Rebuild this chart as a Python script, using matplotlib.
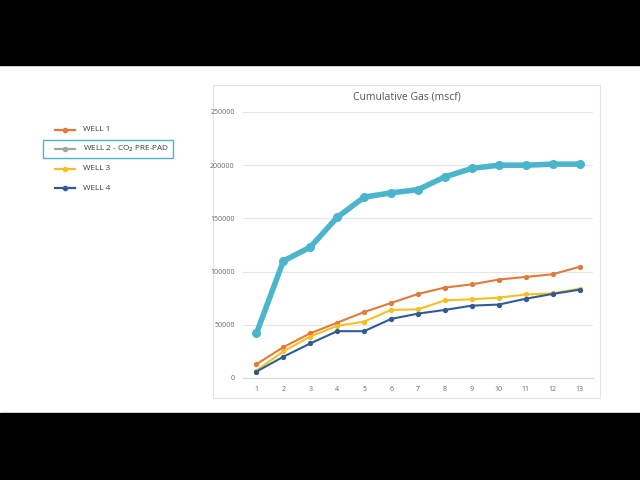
import matplotlib
matplotlib.use("Agg")
import matplotlib.pyplot as plt
from matplotlib.patches import Rectangle
from matplotlib.lines import Line2D

plt.rcParams['font.family'] = ['Open Sans', 'DejaVu Sans']

months = list(range(1, 14))
well1 = [13000, 29000, 42000, 52000, 62000, 70500, 79000, 85000, 88000, 92500, 95000, 97500, 104500]
well2 = [42000, 110000, 123000, 151000, 170000, 174000, 177000, 189000, 197000, 200000, 200000, 201000, 201000]
well3 = [7000, 25000, 39000, 49000, 53000, 64000, 64500, 73000, 74000, 75500, 78500, 79500, 84000]
well4 = [6000, 20000, 32500, 44000, 44000, 55500, 60500, 64000, 68000, 69000, 74500, 79000, 83000]
labels = ['WELL 1', 'WELL 2 - CO$_2$ PRE-PAD', 'WELL 3', 'WELL 4']
yticks = [0, 50000, 100000, 150000, 200000, 250000]

c1 = '#E07B39'
c2 = '#4BB5CE'
c3 = '#F5C021'
c4 = '#2F5C99'
grey = '#A5A5A5'

fig = plt.figure(figsize=(6.4, 4.8), dpi=100)
fig.patch.set_facecolor('white')

# black letterbox bands
fig.patches.append(Rectangle((0, 0), 1, 67/480, transform=fig.transFigure, color='black', zorder=-2))
fig.patches.append(Rectangle((0, 1 - 65/480), 1, 65/480, transform=fig.transFigure, color='black', zorder=-2))

# chart panel border
fig.patches.append(Rectangle((213/640, (480-398)/480), 387/640, 313/480, transform=fig.transFigure,
                             facecolor='white', edgecolor='#E4E4E4', lw=0.8, zorder=-1))

ax = fig.add_axes([243/640, (480-378)/480, 350/640, 266/480], zorder=1)
ax.plot(months, well1, color=c1, lw=1.5, marker='o', ms=2.8, zorder=3)
ax.plot(months, well3, color=c3, lw=1.5, marker='o', ms=2.8, zorder=3)
ax.plot(months, well4, color=c4, lw=1.5, marker='o', ms=2.8, zorder=4)
ax.plot(months, well2, color=c2, lw=4, marker='o', ms=5.5, zorder=5)

ax.set_xlim(0.5, 13.5)
ax.set_ylim(0, 250000)
ax.set_xticks(months)
ax.set_yticks(yticks)
ax.set_yticklabels([str(v) for v in yticks])
ax.tick_params(length=0, labelsize=5, colors='#666666', pad=6)
ax.grid(axis='y', color='#E6E6E6', lw=0.8)
ax.set_axisbelow(True)
for s in ['top', 'right', 'left']:
    ax.spines[s].set_visible(False)
ax.spines['bottom'].set_color('#D9D9D9')
ax.set_facecolor('none')

fig.text(407/640, 1 - 97/480, 'Cumulative Gas (mscf)', ha='center', va='center', fontsize=7.5, color='#555555')

# legend drawn on the left
leg_colors = [c1, grey, c3, c4]
leg_y = [130, 149, 169, 188]
for lab, col, yy in zip(labels, leg_colors, leg_y):
    yf = 1 - yy/480
    fig.add_artist(Line2D([55/640, 75/640], [yf, yf], transform=fig.transFigure, color=col, lw=1.6))
    fig.add_artist(Line2D([65/640], [yf], transform=fig.transFigure, color=col, marker='o', ms=3))
    fig.text(83/640, yf, lab, ha='left', va='center', fontsize=5.9, color='#3A3A3A')

fig.patches.append(Rectangle((43/640, 1 - 158/480), 130/640, 18/480, transform=fig.transFigure,
                             facecolor='none', edgecolor=c2, lw=1.0, zorder=1))

fig.savefig('out.png', dpi=100)
